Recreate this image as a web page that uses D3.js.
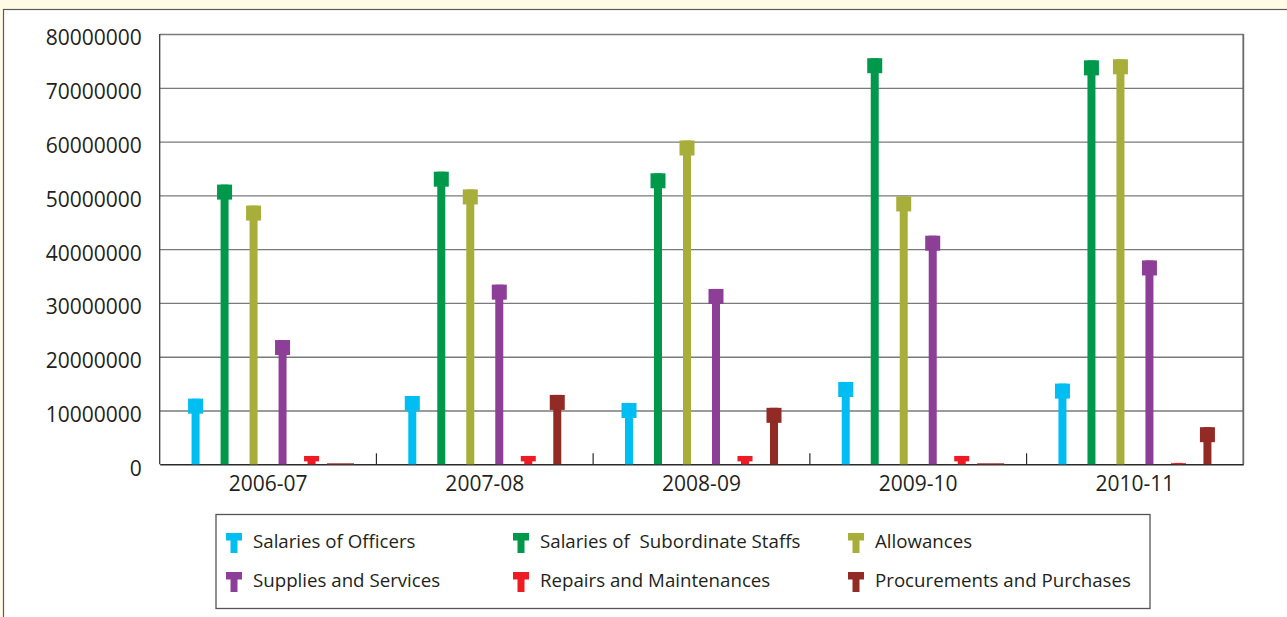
<!DOCTYPE html>
<html>
<head>
<meta charset="utf-8">
<script src="https://cdn.jsdelivr.net/npm/d3@7"></script>
<style>
  html, body { margin: 0; padding: 0; background: #fffbe4; }
  svg { display: block; }
  text { font-family: "Open Sans", "Noto Sans", sans-serif; fill: #231f20; }
</style>
</head>
<body>
<svg id="chart" width="1287" height="617"></svg>
<script>
// Expenditure by head of account, per financial year
const categories = ["2006-07", "2007-08", "2008-09", "2009-10", "2010-11"];
const seriesNames = [
  "Salaries of Officers",
  "Salaries of  Subordinate Staffs",
  "Allowances",
  "Supplies and Services",
  "Repairs and Maintenances",
  "Procurements and Purchases"
];
const salariesOfOfficers     = [12200000, 12700000, 11400000, 15300000, 15000000];
const salariesOfSubordinates = [52000000, 54400000, 54100000, 75500000, 75100000];
const allowances             = [48100000, 51100000, 60200000, 49800000, 75300000];
const suppliesAndServices    = [23100000, 33400000, 32600000, 42500000, 37900000];
const repairsAndMaintenances = [1550000, 1550000, 1550000, 1550000, 250000];
const procurements           = [0, 12900000, 10500000, 0, 6900000];
const yTickValues = [0, 10000000, 20000000, 30000000, 40000000, 50000000, 60000000, 70000000, 80000000];
const seriesColors = ["#00bdf2", "#00994c", "#a8ae3a", "#8d3e97", "#ed1c24", "#922a26"];

const seriesValues = [salariesOfOfficers, salariesOfSubordinates, allowances,
                      suppliesAndServices, repairsAndMaintenances, procurements];

const svg = d3.select("#chart");

// panel
svg.append("rect").attr("x", 3.5).attr("y", 9.5).attr("width", 1300).attr("height", 620)
  .attr("fill", "#ffffff").attr("stroke", "#5a5a5a").attr("stroke-width", 1.2);

const plot = { left: 159.7, right: 1243.3, top: 34, bottom: 464.3 };

const x0 = d3.scaleBand().domain(categories).range([plot.left, plot.right]);
const x1 = d3.scaleBand().domain(seriesNames).range([0, x0.bandwidth()])
  .paddingInner(0).paddingOuter(0.737);
const y = d3.scaleLinear().domain([0, 80000000]).range([plot.bottom, plot.top]);

// horizontal grid
svg.append("g")
  .attr("transform", `translate(${plot.left},0)`)
  .call(d3.axisLeft(y).tickValues(yTickValues.slice(1))
    .tickSize(-(plot.right - plot.left)).tickFormat(""))
  .call(g => g.select(".domain").remove())
  .call(g => g.selectAll("line").attr("stroke", "#7a7a7a").attr("stroke-width", 1.3));

// frame: left axis and right edge
svg.append("line").attr("x1", plot.left).attr("x2", plot.left)
  .attr("y1", plot.top).attr("y2", plot.bottom).attr("stroke", "#3a3a3a").attr("stroke-width", 1.3);
svg.append("line").attr("x1", plot.right).attr("x2", plot.right)
  .attr("y1", plot.top).attr("y2", plot.bottom).attr("stroke", "#6a6a6a").attr("stroke-width", 1.8);

// y labels
svg.append("g")
  .attr("transform", `translate(${plot.left},0)`)
  .call(d3.axisLeft(y).tickValues(yTickValues).tickSize(0).tickPadding(18)
    .tickFormat(d3.format("d")))
  .call(g => g.select(".domain").remove())
  .call(g => g.selectAll("text")
    .attr("dy", "0.52em")
    .style("font-size", "21px")
    .style("font-family", "\"Open Sans\", sans-serif")
    .attr("fill", "#231f20"));

// x axis with category labels
svg.append("g")
  .attr("transform", `translate(0,${plot.bottom})`)
  .call(d3.axisBottom(x0).tickSize(0).tickPadding(12))
  .call(g => g.select(".domain").attr("stroke", "#2a2a2a").attr("stroke-width", 1.4))
  .call(g => g.selectAll("text")
    .style("font-size", "21px")
    .style("font-family", "\"Open Sans\", sans-serif")
    .attr("fill", "#231f20"));

// separators between categories
svg.append("g").selectAll("line")
  .data(categories.slice(1))
  .join("line")
  .attr("x1", d => x0(d)).attr("x2", d => x0(d))
  .attr("y1", plot.bottom - 11).attr("y2", plot.bottom)
  .attr("stroke", "#2a2a2a").attr("stroke-width", 1.2);

// stems with square caps
const stemW = 8, capW = 15, capH = 15;
const marks = [];
categories.forEach((c, ci) => {
  seriesNames.forEach((s, si) => {
    marks.push({ cat: c, series: s, value: seriesValues[si][ci], color: seriesColors[si] });
  });
});

const gMarks = svg.append("g");
marks.forEach(m => {
  const cx = x0(m.cat) + x1(m.series) + x1.bandwidth() / 2;
  const top = y(m.value);
  const h = y(0) - top;
  if (m.value === 0) {
    gMarks.append("rect")
      .attr("x", cx - 13.5).attr("y", y(0) - 1.2).attr("width", 27).attr("height", 1.6)
      .attr("fill", m.color).attr("opacity", 0.75);
    return;
  }
  const ch = Math.min(capH, h * 0.65);
  gMarks.append("rect")
    .attr("x", cx - stemW / 2).attr("y", top).attr("width", stemW).attr("height", h)
    .attr("fill", m.color);
  gMarks.append("rect")
    .attr("x", cx - capW / 2).attr("y", top).attr("width", capW).attr("height", ch)
    .attr("fill", m.color);
});

// legend
const legend = svg.append("g");
legend.append("rect").attr("x", 216).attr("y", 514.5).attr("width", 934).attr("height", 94)
  .attr("fill", "#ffffff").attr("stroke", "#555555").attr("stroke-width", 1.3);

const colX = [226, 513, 848];
const rowY = [548, 587];
seriesNames.forEach((name, i) => {
  const col = i % 3, row = Math.floor(i / 3);
  const ix = colX[col], base = rowY[row];
  const item = legend.append("g");
  item.append("rect").attr("x", ix).attr("y", base - 15).attr("width", 16).attr("height", 7.5)
    .attr("fill", seriesColors[i]);
  item.append("rect").attr("x", ix + 4.5).attr("y", base - 8).attr("width", 7).attr("height", 13)
    .attr("fill", seriesColors[i]);
  item.append("text").attr("x", ix + 27).attr("y", base)
    .style("font-size", "18.7px")
    .style("white-space", "pre")
    .text(name);
});
</script>
</body>
</html>
